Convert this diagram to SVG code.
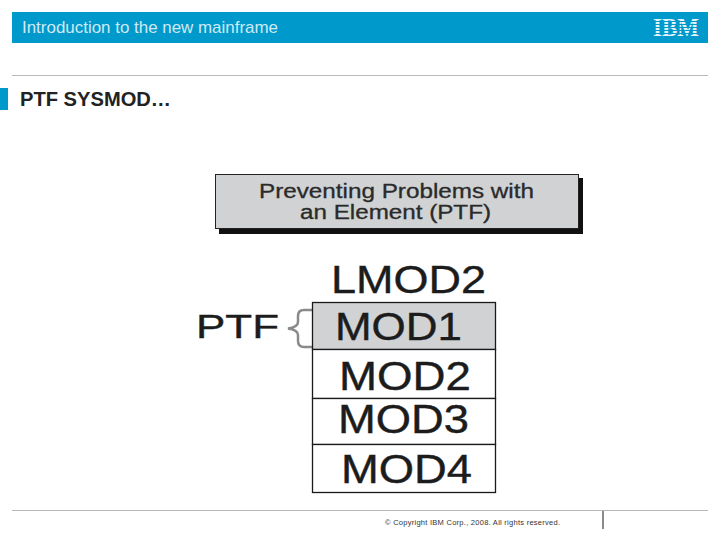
<svg xmlns="http://www.w3.org/2000/svg" width="720" height="540" viewBox="0 0 720 540">
<style>
text{font-family:"Liberation Sans",Arial,sans-serif}
.fig{fill:#1c1c1c;font-size:39px;stroke:#1c1c1c;stroke-width:.4}
.cap{fill:#2a2a2a;font-size:20px;stroke:#2a2a2a;stroke-width:.3}
.cell{fill:#fff;stroke:#1a1a1a;stroke-width:1.3}
.rule{stroke:#b8b8b8;stroke-width:1.2;fill:none}
.bar{fill:#0099cc}
</style>
<rect width="720" height="540" fill="#fff"/>
<g id="header">
<rect class="bar" x="12" y="12" width="696" height="31"/>
<text x="22" y="33" font-size="17" fill="#cfeaf4" textLength="256" lengthAdjust="spacingAndGlyphs">Introduction to the new mainframe</text>
<text x="653" y="36" font-size="25" font-weight="bold" fill="#e4f3f9" style="font-family:'Liberation Serif',serif" textLength="46" lengthAdjust="spacingAndGlyphs">IBM</text>
<g class="bar"><rect x="650" y="21" width="52" height="1"/><rect x="650" y="24" width="52" height="1"/><rect x="650" y="27" width="52" height="1"/><rect x="650" y="30" width="52" height="1"/><rect x="650" y="33" width="52" height="1"/></g>
</g>
<line class="rule" x1="12" y1="75.500" x2="708" y2="75.500"/>
<rect class="bar" x="0" y="88" width="8" height="22"/>
<text x="20" y="106" font-size="19.500" font-weight="bold" fill="#222" textLength="151" lengthAdjust="spacingAndGlyphs">PTF SYSMOD…</text>
<g id="caption">
<rect x="219" y="178" width="364" height="56" fill="#111"/>
<rect x="215.500" y="174.500" width="363" height="54" fill="#d0d2d3" stroke="#222" stroke-width="1"/>
<text class="cap" x="259" y="198" textLength="275" lengthAdjust="spacingAndGlyphs">Preventing Problems with</text>
<text class="cap" x="300" y="218.500" textLength="191" lengthAdjust="spacingAndGlyphs">an Element (PTF)</text>
</g>
<g id="lmod2"><text class="fig" x="331" y="293" textLength="155" lengthAdjust="spacingAndGlyphs">LMOD2</text></g>
<g id="ptf">
<text class="fig" x="196" y="338" style="font-size:34px" textLength="83" lengthAdjust="spacingAndGlyphs">PTF</text>
<path d="M312 310H304Q298 310 298 316V322Q298 327 288 328.500Q298 330 298 335V341Q298 347 304 347H312" fill="none" stroke="#8a8a8a" stroke-width="2.500"/>
</g>
<g id="mod1"><rect class="cell" x="312.500" y="302.500" width="183" height="47" style="fill:#d0d2d3"/><text class="fig" x="335" y="340" textLength="127" lengthAdjust="spacingAndGlyphs">MOD1</text></g>
<g id="mod2"><rect class="cell" x="312.500" y="349.500" width="183" height="49"/><text class="fig" x="339" y="390" style="font-size:40px" textLength="132" lengthAdjust="spacingAndGlyphs">MOD2</text></g>
<g id="mod3"><rect class="cell" x="312.500" y="398.500" width="183" height="46"/><text class="fig" x="338" y="432.500" style="font-size:40px" textLength="131" lengthAdjust="spacingAndGlyphs">MOD3</text></g>
<g id="mod4"><rect class="cell" x="312.500" y="444.500" width="183" height="48"/><text class="fig" x="341" y="482.500" style="font-size:40px" textLength="131" lengthAdjust="spacingAndGlyphs">MOD4</text></g>
<g id="footer">
<line class="rule" x1="12" y1="510.500" x2="708" y2="510.500"/>
<line x1="603" y1="511" x2="603" y2="529" stroke="#8a8a8a" stroke-width="2"/>
<text x="385" y="525" font-size="7.500" fill="#333" textLength="175">© Copyright IBM Corp., 2008. All rights reserved.</text>
</g>
</svg>
